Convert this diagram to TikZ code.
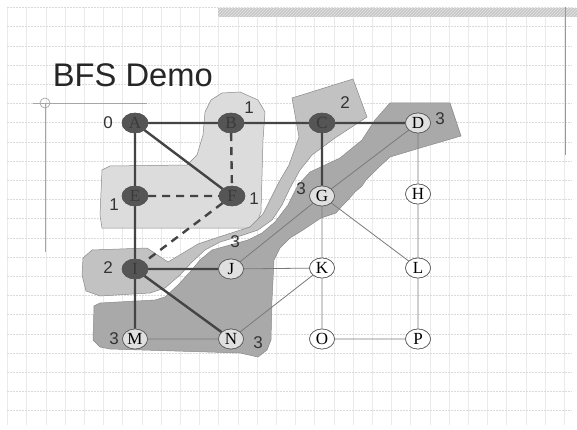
\documentclass[tikz,border=0pt]{standalone}
\usepackage{fontspec}
\setmainfont{Liberation Serif}
\newfontfamily\sansfam{Liberation Sans}
\usetikzlibrary{shapes.geometric,patterns}
\definecolor{gridv}{HTML}{EAEAEA}
\definecolor{gridh}{HTML}{DADADA}
\definecolor{regone}{HTML}{DCDCDC}
\definecolor{regtwo}{HTML}{C2C2C2}
\definecolor{regthree}{HTML}{A9A9A9}
\definecolor{regline}{HTML}{8A8A8A}
\definecolor{visfill}{HTML}{555555}
\definecolor{vistext}{HTML}{3A3A3A}
\definecolor{treeedge}{HTML}{444444}
\definecolor{thinedge}{HTML}{7A7A7A}
\definecolor{numcol}{HTML}{333333}
\begin{document}
\begin{tikzpicture}[x=1pt,y=-1pt,
  gridvline/.style={draw=gridv, line width=0.6pt},
  gridhline/.style={draw=gridh, line width=0.6pt, dash pattern=on 2pt off 1pt},
  region/.style={draw=regline, line width=0.5pt},
  visited/.style={ellipse, draw=visfill, fill=visfill, minimum width=26pt, minimum height=20pt, inner sep=0pt, text=vistext, font=\fontsize{17}{17}\selectfont},
  fresh/.style={ellipse, draw=visfill, line width=0.6pt, fill=white, minimum width=25pt, minimum height=20pt, inner sep=0pt, text=black, font=\fontsize{17}{17}\selectfont},
  inside/.style={fresh, fill=black!12},
  tree/.style={draw=treeedge, line width=2.4pt},
  nontree/.style={draw=treeedge, line width=2.4pt, dash pattern=on 8pt off 6pt},
  thin/.style={draw=thinedge, line width=0.8pt},
  num/.style={font=\sansfam\fontsize{17}{17}\selectfont, text=numcol, inner sep=0pt},
  deco/.style={draw=black!35, line width=0.7pt}
]
\useasboundingbox (0,0) rectangle (577,430);
\fill[white] (0,0) rectangle (577,430);
% grid
\foreach \i in {0,...,29} \draw[gridvline] ({7.5+19.2*\i},7) -- ({7.5+19.2*\i},425);
\foreach \j in {0,...,21} \draw[gridhline] (7,{7.5+19.2*\j}) -- (572,{7.5+19.2*\j});
% top bar and right rule
\fill[black!22] (218,8) rectangle (577,17);
\fill[pattern=north east lines, pattern color=black!10] (218,8) rectangle (577,17);
\draw[draw=black!40, line width=1pt] (565,7) -- (565,155);
% crosshair
\draw[deco] (33,103) -- (147,103);
\draw[deco] (45,103) circle (5);
\draw[deco] (45.5,103) -- (45.5,252);
% title
\node[anchor=base west, inner sep=0pt, font=\sansfam\fontsize{32.7}{33}\selectfont, text=black!85] (title) at (52.7,86.7) {BFS Demo};
% region 1
\path[region, fill=regone] (211,100) -- (222,93) -- (240,92) -- (258,100) -- (265,112) -- (263,140) -- (261,212) -- (256,225) -- (247,228) -- (102,228) -- (100,215) -- (102,170) -- (110,166) -- (187,165) -- (197,155) -- (203,135) -- (205,112) -- cycle;
% region 3
\path[region, fill=regthree] (390,103) -- (450,103) -- (461,136) -- (420,148) -- (390,157) -- (378,168) -- (366,180) -- (362,186) -- (355,192) -- (348,200) -- (342,206) -- (336,213) -- (321,218) -- (312,224) -- (303,230) -- (290,238) -- (280,248) -- (274,260) -- (272,300) -- (271,340) -- (267,350) -- (258,357) -- (240,353) -- (110,349) -- (100,347) -- (93,340) -- (94,306) -- (100,303) -- (155,300) -- (165,297) -- (178,285) -- (190,272) -- (200,260) -- (212,250) -- (230,245) -- (248,240) -- (262,233) -- (275,222) -- (288,205) -- (298,185) -- (310,172) -- (340,158) -- (362,140) -- (375,120) -- cycle;
% region 2
\path[region, fill=regtwo] (292,98) -- (353,79) -- (367,117) -- (335,138) -- (312,155) -- (300,170) -- (290,188) -- (282,205) -- (272,220) -- (258,230) -- (240,236) -- (220,242) -- (205,250) -- (192,262) -- (180,275) -- (165,288) -- (150,293) -- (100,296) -- (86,291) -- (82,275) -- (83,258) -- (92,250) -- (147,248) -- (168,262) -- (198,244) -- (222,236) -- (250,227) -- (263,214) -- (270,200) -- (279,182) -- (289,165) -- (299,137) -- cycle;
% nodes
\node[visited] (A) at (135,123) {A};
\node[visited] (B) at (231,123) {B};
\node[visited] (C) at (322,123) {C};
\node[inside]  (D) at (418,123) {D};
\node[visited] (E) at (135,196) {E};
\node[visited] (F) at (232,196) {F};
\node[inside]  (G) at (322,196) {G};
\node[fresh]   (H) at (418,194) {H};
\node[visited] (I) at (135,269) {I};
\node[inside]  (J) at (231,269) {J};
\node[fresh]   (K) at (322,268) {K};
\node[fresh]   (L) at (418,268) {L};
\node[inside]  (M) at (135,339) {M};
\node[inside]  (N) at (231,339) {N};
\node[fresh]   (O) at (322,339) {O};
\node[fresh]   (P) at (418,339) {P};
% edges
\path[thin] (D) -- (G) (G) -- (J) (D) -- (H) (H) -- (L) (G) -- (K) (G) -- (L) (J) -- (K) (K) -- (N) (K) -- (O) (L) -- (P) (O) -- (P) (M) -- (N);
\path[tree] (A) -- (B) (B) -- (C) (C) -- (D) (A) -- (E) (A) -- (F) (E) -- (I) (C) -- (G) (I) -- (J) (I) -- (M) (I) -- (N);
\path[nontree] (B) -- (F) (E) -- (F) (F) -- (I);
% redraw nodes on top of edges
\node[visited] at (A) {A};
\node[visited] at (B) {B};
\node[visited] at (C) {C};
\node[inside]  at (D) {D};
\node[visited] at (E) {E};
\node[visited] at (F) {F};
\node[inside]  at (G) {G};
\node[fresh]   at (H) {H};
\node[visited] at (I) {I};
\node[inside]  at (J) {J};
\node[fresh]   at (K) {K};
\node[fresh]   at (L) {L};
\node[inside]  at (M) {M};
\node[inside]  at (N) {N};
\node[fresh]   at (O) {O};
\node[fresh]   at (P) {P};
% distance labels
\node[num] (n0) at (108,123) {0};
\node[num] (n1b) at (249,108) {1};
\node[num] (n1e) at (114,205) {1};
\node[num] (n1f) at (254,199) {1};
\node[num] (n2c) at (345,103) {2};
\node[num] (n3d) at (440,119) {3};
\node[num] (n3g) at (301,189) {3};
\node[num] (n3m) at (235,242) {3};
\node[num] (n2i) at (108,268) {2};
\node[num] (n3l) at (114,339) {3};
\node[num] (n3n) at (258,343) {3};
\end{tikzpicture}
\end{document}
